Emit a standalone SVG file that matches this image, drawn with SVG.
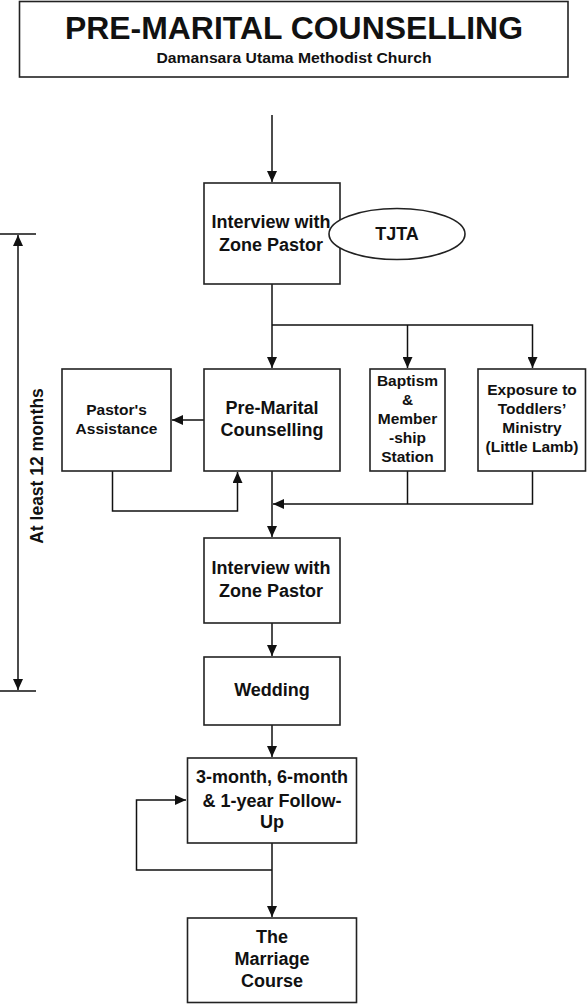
<svg xmlns="http://www.w3.org/2000/svg" width="588" height="1004" viewBox="0 0 588 1004">
<defs>
<marker id="ah" markerUnits="userSpaceOnUse" markerWidth="12" markerHeight="10" refX="11" refY="5" orient="auto">
<path d="M0,0 L11,5 L0,10 Z" fill="#111"/>
</marker>
<style>
.box{fill:#fff;stroke:#222;stroke-width:1.6}
.ln{fill:none;stroke:#111;stroke-width:1.5}
.t{font-family:"Liberation Sans",Arial,sans-serif;font-weight:bold;fill:#111;text-anchor:middle}
.big{font-size:18px}
.sm{font-size:15.5px}
</style>
</defs>
<rect width="588" height="1004" fill="#fff"/>

<g id="title">
<rect class="box" x="19.5" y="1.5" width="548.5" height="75.5" stroke-width="2"/>
<text class="t" x="294" y="38.5" font-size="30.5" textLength="458" lengthAdjust="spacingAndGlyphs">PRE-MARITAL COUNSELLING</text>
<text class="t" x="294" y="62.5" font-size="14" textLength="275" lengthAdjust="spacingAndGlyphs">Damansara Utama Methodist Church</text>
</g>

<g id="connectors">
<path class="ln" d="M272,115 V182" marker-end="url(#ah)"/>
<path class="ln" d="M272,284 V368" marker-end="url(#ah)"/>
<path class="ln" d="M272,325 H532.5 V368" marker-end="url(#ah)"/>
<path class="ln" d="M407.5,325 V368" marker-end="url(#ah)"/>
<path class="ln" d="M204,420 H172" marker-end="url(#ah)"/>
<path class="ln" d="M112.5,471 V511 H237.5 V472" marker-end="url(#ah)"/>
<path class="ln" d="M272,471 V537" marker-end="url(#ah)"/>
<path class="ln" d="M407.5,471 V504"/>
<path class="ln" d="M532.5,471 V504 H273" marker-end="url(#ah)"/>
<path class="ln" d="M272,623 V656" marker-end="url(#ah)"/>
<path class="ln" d="M272,725 V757" marker-end="url(#ah)"/>
<path class="ln" d="M272,843 V917" marker-end="url(#ah)"/>
<path class="ln" d="M272,870 H136.5 V800 H186" marker-end="url(#ah)"/>
<path class="ln" d="M18,462 V235" marker-end="url(#ah)"/>
<path class="ln" d="M18,462 V690" marker-end="url(#ah)"/>
<path class="ln" d="M0,234 H36 M0,691 H36"/>
</g>

<g id="timeline-label">
<text class="t" transform="translate(43,466) rotate(-90)" x="0" y="0" font-size="17.5">At least 12 months</text>
</g>

<g id="interview1">
<rect class="box" x="204" y="183" width="136" height="101"/>
<text class="t big" x="271" y="228">Interview with</text>
<text class="t big" x="271" y="251">Zone Pastor</text>
</g>

<g id="tjta">
<ellipse class="box" cx="397" cy="234" rx="68" ry="25.5"/>
<text class="t big" x="397" y="240">TJTA</text>
</g>

<g id="pastors-assistance">
<rect class="box" x="62" y="369" width="109" height="102"/>
<text class="t sm" x="116.5" y="415">Pastor's</text>
<text class="t sm" x="116.5" y="434">Assistance</text>
</g>

<g id="pre-marital">
<rect class="box" x="204" y="369" width="136" height="102"/>
<text class="t big" x="272" y="414">Pre-Marital</text>
<text class="t big" x="272" y="436">Counselling</text>
</g>

<g id="baptism">
<rect class="box" x="370" y="369" width="75" height="102"/>
<text class="t sm" x="407.5" y="386">Baptism</text>
<text class="t sm" x="407.5" y="404.5">&amp;</text>
<text class="t sm" x="407.5" y="423.5">Member</text>
<text class="t sm" x="407.5" y="442.5">-ship</text>
<text class="t sm" x="407.5" y="462">Station</text>
</g>

<g id="exposure">
<rect class="box" x="478" y="369" width="107.5" height="102"/>
<text class="t sm" x="532" y="395">Exposure to</text>
<text class="t sm" x="532" y="414">Toddlers’</text>
<text class="t sm" x="532" y="433">Ministry</text>
<text class="t sm" x="532" y="452">(Little Lamb)</text>
</g>

<g id="interview2">
<rect class="box" x="204" y="538" width="136" height="85"/>
<text class="t big" x="271" y="574">Interview with</text>
<text class="t big" x="271" y="597">Zone Pastor</text>
</g>

<g id="wedding">
<rect class="box" x="204" y="657" width="136" height="68"/>
<text class="t big" x="272" y="696">Wedding</text>
</g>

<g id="follow-up">
<rect class="box" x="187.5" y="758" width="169" height="85"/>
<text class="t big" x="272" y="783">3-month, 6-month</text>
<text class="t big" x="272" y="806.5">&amp; 1-year Follow-</text>
<text class="t big" x="272" y="828">Up</text>
</g>

<g id="marriage-course">
<rect class="box" x="187.5" y="918" width="169" height="84.5"/>
<text class="t big" x="272" y="943">The</text>
<text class="t big" x="272" y="965">Marriage</text>
<text class="t big" x="272" y="987">Course</text>
</g>
</svg>
